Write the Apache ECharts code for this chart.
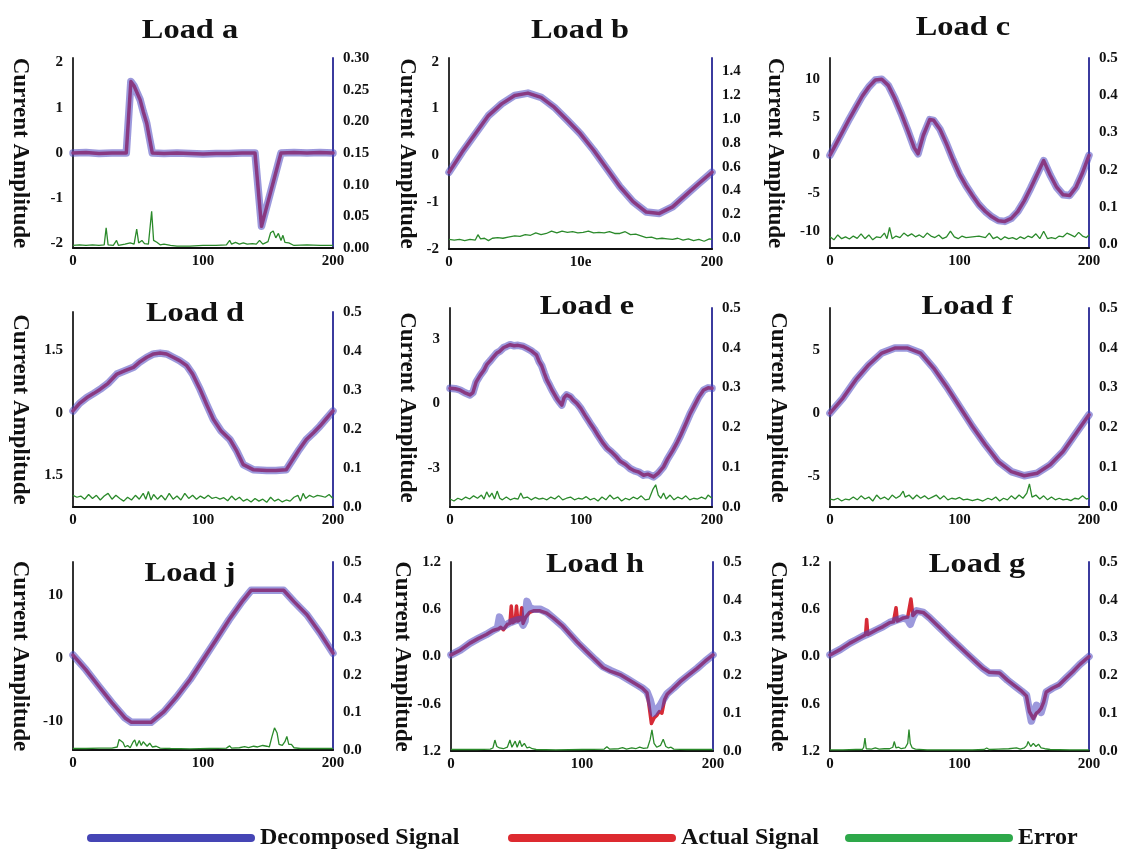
<!DOCTYPE html>
<html>
<head>
<meta charset="utf-8">
<title>Load signals</title>
<script src="https://cdn.jsdelivr.net/npm/echarts@6/dist/echarts.min.js"></script>
<style>
  html, body { margin: 0; padding: 0; background: #fff; }
  #chart { width: 1122px; height: 854px; }
</style>
</head>
<body>
<div id="chart"></div>
<script>
// ---- data: [sample, amplitude] ----
const panelNames = ["Load a", "Load b", "Load c", "Load d", "Load e", "Load f", "Load j", "Load h", "Load g"]
const seriesNames = ["Decomposed Signal", "Actual Signal", "Error"]

const decompA = [[0,0],[10,0.01],[20,-0.01],[30,0],[41,0],[44.5,1.58],[47,1.48],[51.6,1.18],[54,0.92],[56.7,0.66],[59,0.3],[61,0],[70,-0.01],[80,0],[90,-0.01],[100,-0.02],[110,-0.01],[120,-0.01],[130,0],[140,0],[145,-1.62],[150,-1.08],[155,-0.54],[160,0],[170,0.01],[180,0],[190,0.01],[200,0]]
const decompB = [[0,-0.36],[10,0.07],[20,0.46],[30,0.85],[40,1.1],[50,1.28],[60,1.33],[70,1.24],[80,1.03],[90,0.75],[100,0.46],[110,0.11],[120,-0.28],[130,-0.67],[140,-0.99],[150,-1.21],[160,-1.24],[170,-1.1],[180,-0.85],[190,-0.6],[200,-0.36]]
const decompC = [[0,0],[5,1.6],[10,3.2],[15,4.8],[20,6.3],[25,7.8],[30,9],[35,9.9],[40,10],[45,9.2],[50,7.5],[55,5.5],[60,3.3],[65,1],[68,0.2],[72,2.6],[77,4.7],[80,4.6],[85,3.4],[90,1.5],[95,-0.6],[100,-2.5],[105,-4],[110,-5.3],[115,-6.5],[120,-7.4],[125,-8.1],[130,-8.6],[135,-8.7],[140,-8.3],[145,-7.4],[150,-6],[155,-4.3],[160,-2.5],[165,-0.7],[170,-2.6],[175,-4.2],[180,-5.2],[185,-5.3],[190,-4.2],[195,-2.3],[200,0]]
const decompD = [[0,0.04],[5,0.22],[10.7,0.36],[16,0.46],[21,0.56],[27,0.7],[33.8,0.92],[40,1],[46.5,1.08],[51,1.2],[56.8,1.32],[62,1.4],[67,1.42],[72,1.4],[77,1.32],[82,1.24],[87.5,1.12],[92,0.92],[97.7,0.56],[103,0.18],[108,-0.16],[114,-0.44],[120.7,-0.64],[126,-0.92],[131,-1.24],[138.6,-1.36],[149,-1.38],[156,-1.38],[164,-1.36],[169,-1.12],[174,-0.88],[179.5,-0.64],[185,-0.48],[190,-0.32],[195,-0.14],[200,0.04]]
const decompE = [[0,0.7],[4,0.68],[7.6,0.62],[11,0.5],[15.3,0.39],[17.5,0.5],[20,1],[23,1.3],[26,1.55],[28,1.8],[31,2],[33,2.15],[35.7,2.34],[38,2.42],[41,2.6],[43,2.65],[45.9,2.73],[49,2.68],[52,2.7],[56,2.65],[59,2.55],[62,2.45],[64,2.35],[66,2.26],[68,1.95],[70,1.75],[72,1.4],[73.9,1.09],[76,0.85],[78,0.6],[81.5,0.23],[83,0.1],[85.4,-0.08],[87,0.25],[89,0.39],[92,0.3],[94,0.15],[96.8,0],[100,-0.25],[103,-0.55],[107,-0.93],[110,-1.2],[113,-1.5],[117,-1.87],[120,-2.1],[123,-2.25],[127,-2.49],[130,-2.7],[134,-2.85],[137.6,-3.04],[141,-3.15],[144,-3.2],[147.8,-3.35],[151,-3.3],[155.4,-3.43],[159,-3.25],[163,-2.96],[166,-2.6],[170,-2.2],[173,-1.87],[176,-1.5],[180,-0.95],[183.4,-0.47],[187,-0.05],[190,0.3],[193.6,0.62],[197,0.72],[200,0.7]]
const decompF = [[0,0],[10,1.2],[20,2.67],[30,3.87],[40,4.8],[50,5.2],[60,5.2],[70,4.8],[80,3.6],[90,2.13],[100,0.53],[110,-1.07],[120,-2.53],[130,-3.87],[140,-4.67],[150,-5],[160,-4.8],[170,-4.13],[180,-3.07],[190,-1.6],[200,-0.13]]
const decompJ = [[0,0.5],[10,-1.85],[20,-4.5],[30,-7.1],[40,-9.5],[45,-10.2],[60,-10.2],[70,-8.5],[80,-6.1],[90,-3.4],[100,-0.26],[110,2.9],[120,6.1],[130,9],[137,10.8],[162,10.8],[170,9],[180,6.9],[190,4],[200,0.8]]
const decompH = [[0,0.02],[7,0.08],[14.5,0.17],[21,0.23],[27,0.28],[32,0.33],[35.5,0.36],[37,0.5],[38.5,0.52],[40,0.38],[45,0.43],[50,0.46],[53,0.47],[55,0.4],[56.5,0.45],[58,0.7],[60,0.62],[63,0.6],[68,0.6],[73,0.56],[78,0.49],[85,0.39],[91,0.28],[97,0.17],[103.7,0.06],[110,-0.04],[116,-0.13],[122,-0.18],[129,-0.23],[135,-0.29],[142,-0.36],[146,-0.4],[149.6,-0.45],[152,-0.55],[154.6,-0.72],[157,-0.68],[159.7,-0.62],[162,-0.55],[165,-0.47],[170,-0.4],[175,-0.32],[181,-0.24],[187.8,-0.15],[194,-0.06],[200,0.02]]
const actualH = [[0,0.02],[7,0.08],[14.5,0.17],[21,0.23],[27,0.28],[32,0.33],[36,0.35],[38,0.37],[40,0.34],[43,0.41],[45,0.42],[46,0.64],[47,0.43],[49,0.45],[50,0.64],[51,0.45],[53,0.47],[54,0.62],[55,0.42],[57,0.5],[60,0.56],[63,0.58],[68,0.58],[73,0.55],[78,0.49],[85,0.39],[91,0.28],[97,0.17],[103.7,0.06],[110,-0.04],[116,-0.14],[122,-0.19],[129,-0.23],[135,-0.29],[142,-0.36],[146,-0.4],[149.6,-0.46],[151,-0.6],[153,-0.85],[155,-0.78],[157,-0.75],[159,-0.7],[161,-0.72],[163,-0.55],[165,-0.48],[170,-0.4],[175,-0.32],[181,-0.24],[187.8,-0.15],[194,-0.06],[200,0.02]]
const decompG = [[0,0.02],[8,0.09],[15.4,0.17],[20,0.21],[25.7,0.26],[30,0.29],[36,0.34],[41,0.38],[46,0.43],[51,0.46],[56.6,0.49],[60,0.47],[62,0.41],[64,0.5],[66.8,0.58],[72,0.56],[77,0.49],[82,0.41],[87,0.33],[92.5,0.24],[99,0.14],[105.4,0.04],[112,-0.06],[118,-0.15],[123,-0.21],[131,-0.21],[137,-0.3],[144,-0.39],[148,-0.44],[151.7,-0.49],[153.5,-0.65],[155.5,-0.82],[157.5,-0.72],[159.4,-0.62],[161,-0.64],[163,-0.71],[165,-0.6],[167,-0.45],[172,-0.4],[177,-0.36],[182,-0.28],[187.7,-0.19],[193,-0.1],[200,0]]
const actualG = [[0,0.02],[8,0.09],[15.4,0.17],[20,0.21],[25.7,0.26],[27.5,0.28],[28.3,0.47],[29.2,0.28],[30,0.29],[36,0.34],[41,0.38],[46,0.43],[49,0.44],[51,0.62],[52,0.45],[56.6,0.49],[60,0.5],[62.5,0.73],[64,0.52],[66.8,0.57],[72,0.56],[77,0.49],[82,0.41],[87,0.33],[92.5,0.24],[99,0.14],[105.4,0.04],[112,-0.06],[118,-0.15],[123,-0.2],[131,-0.21],[137,-0.3],[144,-0.39],[148,-0.44],[151.7,-0.5],[154,-0.7],[157,-0.79],[159.4,-0.72],[161,-0.7],[163,-0.66],[165,-0.58],[167,-0.45],[172,-0.4],[177,-0.36],[182,-0.28],[187.7,-0.19],[193,-0.1],[200,0]]

const errorA = [[0,0.004],[5,0.005],[10,0.004],[15,0.005],[20,0.004],[24,0.005],[25.5,0.032],[27,0.005],[31,0.004],[33.5,0.012],[35,0.004],[40,0.006],[44,0.008],[47,0.006],[49,0.03],[50.5,0.008],[53,0.012],[55,0.007],[58,0.006],[60.5,0.058],[62,0.012],[64.5,0.009],[67,0.005],[70,0.006],[75,0.004],[80,0.003],[90,0.003],[100,0.004],[110,0.004],[118,0.005],[120.5,0.012],[122,0.006],[125,0.009],[128,0.006],[131,0.008],[134,0.006],[138,0.007],[141,0.006],[143.5,0.012],[146,0.006],[150,0.01],[152,0.024],[154,0.027],[156,0.016],[158,0.023],[160,0.012],[161.5,0.02],[163,0.009],[166,0.008],[170,0.004],[180,0.005],[190,0.004],[200,0.004]]
const errorB = [[0,-0.01],[4,-0.015],[8,-0.01],[12,-0.02],[16,-0.01],[20,-0.015],[22,0.03],[24,-0.005],[27,0],[30,-0.02],[33,0],[37,0.005],[41,0],[45,0.01],[50,0.02],[54,0.015],[58,0.03],[62,0.025],[66,0.045],[70,0.03],[74,0.04],[78,0.06],[82,0.045],[86,0.06],[90,0.05],[94,0.055],[98,0.045],[102,0.05],[106,0.06],[110,0.045],[114,0.05],[118,0.045],[122,0.055],[126,0.04],[130,0.04],[134,0.055],[138,0.03],[142,0.035],[146,0.02],[150,0.005],[154,0.01],[158,-0.005],[162,0],[166,-0.005],[170,-0.01],[174,0],[178,-0.015],[182,-0.005],[186,-0.02],[190,-0.01],[194,-0.025],[198,-0.005],[200,-0.01]]
const errorC = [[0,0.02],[3,0.012],[6,0.025],[9,0.015],[12,0.02],[15,0.014],[18,0.022],[21,0.016],[24,0.028],[27,0.015],[30,0.025],[33,0.012],[36,0.02],[39,0.018],[42,0.03],[44,0.015],[46,0.045],[48,0.015],[51,0.022],[54,0.018],[57,0.03],[60,0.022],[63,0.028],[66,0.02],[69,0.025],[72,0.018],[75,0.03],[78,0.022],[81,0.018],[84,0.025],[87,0.015],[90,0.02],[93,0.035],[96,0.02],[99,0.015],[102,0.022],[105,0.018],[110,0.02],[115,0.022],[120,0.018],[123,0.03],[126,0.015],[129,0.02],[132,0.012],[135,0.02],[138,0.015],[141,0.018],[144,0.013],[147,0.02],[150,0.015],[153,0.022],[156,0.018],[159,0.028],[162,0.015],[165,0.035],[168,0.015],[171,0.018],[174,0.015],[177,0.022],[180,0.02],[183,0.03],[186,0.025],[189,0.02],[192,0.032],[195,0.022],[198,0.018],[200,0.025]]
const errorD = [[0,0.03],[3,0.025],[6,0.028],[9,0.02],[12,0.032],[15,0.022],[18,0.03],[21,0.018],[24,0.028],[27,0.035],[30,0.02],[33,0.03],[36,0.022],[39,0.015],[42,0.025],[45,0.018],[48,0.03],[51,0.02],[54,0.035],[56,0.02],[58,0.04],[60,0.018],[62,0.032],[65,0.02],[68,0.03],[71,0.018],[74,0.035],[77,0.02],[80,0.028],[83,0.018],[86,0.035],[89,0.022],[92,0.03],[95,0.02],[98,0.028],[101,0.022],[104,0.03],[107,0.022],[110,0.025],[113,0.02],[116,0.024],[119,0.016],[122,0.028],[125,0.018],[128,0.025],[131,0.015],[134,0.02],[137,0.013],[140,0.022],[143,0.015],[146,0.02],[149,0.012],[152,0.025],[155,0.015],[158,0.02],[161,0.013],[164,0.018],[167,0.015],[170,0.025],[173,0.03],[175,0.015],[177,0.035],[179,0.022],[182,0.03],[185,0.025],[188,0.03],[191,0.028],[194,0.025],[197,0.032],[200,0.022]]
const errorE = [[0,0.02],[3,0.015],[6,0.022],[9,0.018],[12,0.025],[15,0.02],[18,0.028],[21,0.022],[24,0.03],[26,0.02],[28,0.038],[30,0.025],[32,0.035],[34,0.02],[36,0.04],[38,0.022],[40,0.018],[43,0.025],[46,0.018],[49,0.022],[52,0.02],[54,0.035],[56,0.022],[59,0.025],[62,0.018],[65,0.024],[68,0.02],[71,0.022],[74,0.018],[77,0.025],[80,0.02],[83,0.028],[86,0.018],[89,0.022],[92,0.025],[95,0.018],[98,0.022],[101,0.02],[104,0.026],[107,0.018],[110,0.022],[113,0.015],[116,0.025],[119,0.018],[122,0.03],[125,0.02],[128,0.025],[131,0.015],[134,0.022],[137,0.018],[140,0.025],[143,0.02],[146,0.028],[149,0.018],[152,0.02],[155,0.045],[157,0.056],[159,0.03],[161,0.022],[163,0.035],[165,0.02],[168,0.03],[171,0.018],[174,0.025],[177,0.02],[180,0.028],[183,0.018],[186,0.022],[189,0.02],[192,0.025],[195,0.02],[197,0.03],[200,0.022]]
const errorF = [[0,0.02],[3,0.018],[6,0.022],[9,0.015],[12,0.02],[15,0.018],[18,0.025],[21,0.018],[24,0.028],[27,0.02],[30,0.025],[33,0.015],[36,0.03],[39,0.02],[42,0.025],[45,0.018],[48,0.03],[51,0.022],[54,0.028],[56.5,0.04],[58,0.025],[61,0.03],[64,0.02],[67,0.03],[70,0.022],[73,0.028],[76,0.02],[79,0.025],[82,0.03],[85,0.02],[88,0.028],[91,0.018],[94,0.022],[97,0.02],[100,0.024],[103,0.018],[106,0.02],[110,0.016],[114,0.02],[118,0.015],[122,0.022],[125,0.018],[128,0.025],[131,0.015],[134,0.022],[137,0.018],[140,0.028],[143,0.02],[146,0.03],[149,0.022],[152,0.035],[154,0.058],[156,0.025],[159,0.03],[162,0.02],[165,0.028],[168,0.018],[171,0.025],[174,0.018],[177,0.022],[180,0.018],[183,0.02],[186,0.016],[189,0.022],[192,0.02],[195,0.028],[198,0.02],[200,0.022]]
const errorJ = [[0,0.004],[10,0.004],[20,0.005],[30,0.005],[34,0.008],[35.5,0.028],[37,0.03],[38.5,0.02],[40,0.008],[42,0.012],[44,0.006],[46,0.02],[47.5,0.027],[49,0.01],[51,0.025],[52.5,0.012],[54,0.022],[55.5,0.025],[57,0.01],[59,0.018],[61,0.008],[64,0.01],[67,0.005],[75,0.004],[90,0.003],[105,0.004],[118,0.005],[120.5,0.011],[122,0.005],[128,0.006],[132,0.009],[135,0.006],[139,0.01],[142,0.008],[146,0.012],[149,0.01],[151,0.008],[153,0.035],[155,0.059],[157,0.045],[158.5,0.015],[161,0.012],[163,0.022],[164.5,0.036],[166,0.015],[168,0.015],[170,0.006],[175,0.004],[185,0.004],[200,0.004]]
const errorH = [[0,0.004],[10,0.004],[20,0.004],[30,0.005],[32,0.008],[33.5,0.029],[35,0.012],[37,0.008],[40,0.006],[43,0.01],[45,0.029],[46.5,0.01],[49,0.026],[50.5,0.01],[52.5,0.028],[54,0.012],[56,0.02],[58,0.008],[60,0.01],[62,0.006],[65,0.004],[80,0.003],[100,0.004],[117,0.005],[119,0.011],[121,0.005],[128,0.006],[131,0.009],[134,0.005],[138,0.008],[141,0.006],[144,0.01],[147,0.007],[150,0.008],[152,0.03],[153.4,0.056],[155,0.02],[157,0.01],[160,0.015],[162,0.031],[164,0.012],[166,0.008],[168,0.01],[170,0.005],[180,0.004],[200,0.004]]
const errorG = [[0,0.003],[10,0.003],[20,0.004],[25,0.004],[26,0.01],[27,0.034],[28,0.006],[32,0.005],[35,0.008],[38,0.005],[42,0.006],[46,0.006],[48.5,0.01],[49.6,0.025],[51,0.008],[53,0.01],[55,0.006],[58,0.008],[60,0.02],[61,0.057],[62,0.02],[63.5,0.008],[66,0.005],[75,0.003],[90,0.003],[110,0.003],[119,0.004],[121,0.008],[123,0.004],[130,0.005],[138,0.006],[144,0.008],[147,0.005],[150,0.008],[152,0.015],[153,0.025],[155,0.012],[157,0.02],[159,0.012],[161,0.018],[163,0.008],[166,0.006],[170,0.004],[185,0.003],[200,0.003]]

const decomposed = [decompA, decompB, decompC, decompD, decompE, decompF, decompJ, decompH, decompG]
// actual and decomposed coincide except in loads h and g
const actual = [decompA, decompB, decompC, decompD, decompE, decompF, decompJ, actualH, actualG]
const errors = [errorA, errorB, errorC, errorD, errorE, errorF, errorJ, errorH, errorG]

// ---- tick labels ----
const xTicks = [0, 100, 200]
const xTickText = [
  ["0", "100", "200"], ["0", "10e", "200"], ["0", "100", "200"],
  ["0", "100", "200"], ["0", "100", "200"], ["0", "100", "200"],
  ["0", "100", "200"], ["0", "100", "200"], ["0", "100", "200"]
]
const leftTicks = [
  [-2, -1, 0, 1, 2], [-2, -1, 0, 1, 2], [-10, -5, 0, 5, 10],
  [-1.5, 0, 1.5], [-3, 0, 3], [-5, 0, 5],
  [-10, 0, 10], [-1.2, -0.6, 0, 0.6, 1.2], [-1.2, -0.6, 0, 0.6, 1.2]
]
const leftTickText = [
  ["-2", "-1", "0", "1", "2"], ["-2", "-1", "0", "1", "2"], ["-10", "-5", "0", "5", "10"],
  ["1.5", "0", "1.5"], ["-3", "0", "3"], ["-5", "0", "5"],
  ["-10", "0", "10"], ["1.2", "-0.6", "0.0", "0.6", "1.2"], ["1.2", "0.6", "0.0", "0.6", "1.2"]
]
const rightTicksA = [0, 0.05, 0.1, 0.15, 0.2, 0.25, 0.3]
const rightTicksB = [0, 0.2, 0.4, 0.6, 0.8, 1.0, 1.2, 1.4]
const rightTicksRest = [0, 0.1, 0.2, 0.3, 0.4, 0.5]

// ---- layout (pixels) ----
const boxes = [
  [73, 58, 260, 190], [449, 58, 263, 191], [830, 58, 259, 190],
  [73, 312, 260, 195], [450, 308, 262, 199], [830, 308, 259, 199],
  [73, 562, 260, 188], [451, 562, 262, 189], [830, 562, 259, 189]
]
const titlePos = [
  [190, 31], [580, 31], [963, 28],
  [195, 314], [587, 307], [967, 307],
  [190, 574], [595, 565], [977, 565]
]
const leftRange = [[-2.1, 2.1], [-2, 2.08], [-12.2, 12.8], [-2.25, 2.4], [-4.83, 4.44], [-7.5, 8.4], [-14.6, 15.3], [-1.2, 1.2], [-1.2, 1.2]]
const rightRange = [[0, 0.3], [-0.09, 1.51], [-0.01, 0.5], [0, 0.5], [0, 0.5], [0, 0.5], [0, 0.5], [0, 0.5], [0, 0.5]]
const nameGaps = [42, 31, 44, 42, 32, 41, 42, 35, 41]
const legendLeft = [87, 508, 845]

const SERIF = "'Liberation Serif', 'Times New Roman', serif"
const BLUE = "#4a46c0"
const RED = "#d62a36"
const GREEN = "#2b8a2b"
const legendColors = ["#4545b5", "#dd2a30", "#2ea84a"]

function pick(ticks, texts) {
  return (v) => {
    const i = ticks.findIndex((t) => Math.abs(t - v) < 1e-9)
    return i < 0 ? "" : texts[i]
  }
}

const tickFont = { fontFamily: SERIF, fontWeight: "bold", fontSize: 15, color: "#111" }

const grids = []
const xAxes = []
const yAxes = []
const series = []
const graphics = []

panelNames.forEach((name, i) => {
  const b = boxes[i]
  grids.push({ left: b[0], top: b[1], width: b[2], height: b[3], containLabel: false })

  xAxes.push({
    type: "value",
    gridIndex: i,
    min: 0,
    max: 200,
    axisLine: { onZero: false, lineStyle: { color: "#111", width: 2 } },
    axisTick: { show: false },
    splitLine: { show: false },
    axisLabel: Object.assign({ customValues: xTicks, margin: 6, formatter: pick(xTicks, xTickText[i]) }, tickFont)
  })

  yAxes.push({
    type: "value",
    gridIndex: i,
    position: "left",
    min: leftRange[i][0],
    max: leftRange[i][1],
    name: "Current Amplitude",
    nameLocation: "middle",
    nameRotate: -90,
    nameGap: nameGaps[i],
    nameTextStyle: { fontFamily: SERIF, fontWeight: "bold", fontSize: 23, color: "#111" },
    axisLine: { show: true, onZero: false, lineStyle: { color: "#333", width: 2 } },
    axisTick: { show: false },
    splitLine: { show: false },
    axisLabel: Object.assign({ customValues: leftTicks[i], margin: 10, formatter: pick(leftTicks[i], leftTickText[i]) }, tickFont)
  })

  const rTicks = i === 0 ? rightTicksA : i === 1 ? rightTicksB : rightTicksRest
  const digits = i === 0 ? 2 : 1
  yAxes.push({
    type: "value",
    gridIndex: i,
    position: "right",
    min: rightRange[i][0],
    max: rightRange[i][1],
    axisLine: { show: true, onZero: false, lineStyle: { color: "#3b3b9e", width: 2 } },
    axisTick: { show: false },
    splitLine: { show: false },
    axisLabel: Object.assign({ customValues: rTicks, margin: 10, formatter: (v) => v.toFixed(digits) }, tickFont)
  })

  series.push({
    name: seriesNames[1],
    type: "line",
    xAxisIndex: i,
    yAxisIndex: 2 * i,
    data: actual[i],
    showSymbol: false,
    symbol: "none",
    color: RED,
    lineStyle: { color: RED, width: 3.5, join: "round", cap: "round" },
    z: 2
  })
  series.push({
    name: seriesNames[0],
    type: "line",
    xAxisIndex: i,
    yAxisIndex: 2 * i,
    data: decomposed[i],
    showSymbol: false,
    symbol: "none",
    color: BLUE,
    lineStyle: { color: BLUE, width: 7.5, opacity: 0.55, join: "round", cap: "round" },
    z: 3
  })
  series.push({
    name: seriesNames[2],
    type: "line",
    xAxisIndex: i,
    yAxisIndex: 2 * i + 1,
    data: errors[i],
    showSymbol: false,
    symbol: "none",
    color: GREEN,
    lineStyle: { color: GREEN, width: 1.3 },
    z: 4
  })

  graphics.push({
    type: "text",
    x: titlePos[i][0],
    y: titlePos[i][1],
    scaleX: 1.2,
    style: {
      text: name,
      fill: "#111",
      font: "bold 27px " + SERIF,
      align: "center",
      verticalAlign: "middle"
    }
  })
})

// one legend block per entry so each sits where the original has it
const capsule = "path://M4,0 L164,0 A4,4 0 0 1 164,8 L4,8 A4,4 0 0 1 4,0 Z"
const legends = seriesNames.map((name, k) => ({
  left: legendLeft[k],
  top: 826,
  padding: 0,
  itemWidth: 168,
  itemHeight: 9,
  itemGap: 7,
  selectedMode: false,
  textStyle: { fontFamily: SERIF, fontWeight: "bold", fontSize: 24, color: "#111" },
  data: [{ name, icon: capsule, itemStyle: { color: legendColors[k], opacity: 1 } }]
}))

const chart = echarts.init(document.getElementById("chart"))
chart.setOption({
  animation: false,
  backgroundColor: "#fff",
  grid: grids,
  xAxis: xAxes,
  yAxis: yAxes,
  series,
  graphic: graphics,
  legend: legends
})
</script>
</body>
</html>
